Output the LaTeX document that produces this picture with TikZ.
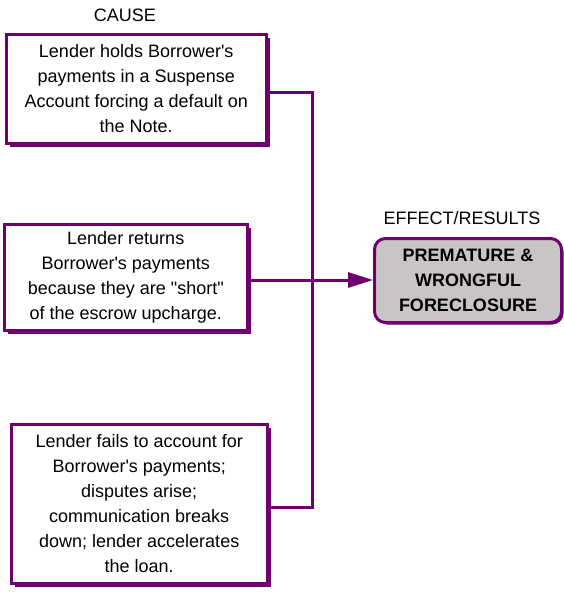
\documentclass[tikz,border=0pt]{standalone}
\usepackage{fontspec}
\setmainfont{Liberation Sans}[Ligatures=TeXOff]
\usetikzlibrary{arrows.meta,shadows}
\definecolor{pur}{RGB}{112,0,112}
\definecolor{effgray}{RGB}{201,197,197}
\begin{document}
\begin{tikzpicture}[x=1pt,y=-1pt,
  txt/.style={font=\fontsize{18}{25}\selectfont, align=center},
  causebox/.style={txt, draw=pur, line width=2.5pt, fill=white, inner sep=0pt, anchor=north west,
    drop shadow={shadow xshift=4pt, shadow yshift=-4pt, fill=pur, opacity=1}},
  effbox/.style={font=\bfseries\fontsize{18}{25}\selectfont, align=center, draw=pur, line width=3pt,
    fill=effgray, rounded corners=11pt, inner sep=0pt, anchor=north west,
    drop shadow={shadow xshift=2pt, shadow yshift=-2pt, fill=pur, opacity=1}},
  conn/.style={draw=pur, line width=3pt},
  lbl/.style={font=\fontsize{18}{22}\selectfont}]
\useasboundingbox (0,0) rectangle (563,592);
\node[lbl] (cause) at (125,15) {CAUSE};
\node[lbl] (effect) at (462,218) {EFFECT/RESULTS};
\node[causebox, minimum width=260pt, minimum height=109pt] (b1) at (5,33)
  {Lender holds Borrower's\\ payments in a Suspense\\ Account forcing a default on\\ the Note.};
\node[causebox, minimum width=243pt, minimum height=106pt] (b2) at (3,223)
  {Lender returns\\ Borrower's payments\\ because they are "short"\\ of the escrow upcharge.};
\node[causebox, minimum width=256pt, minimum height=159pt] (b3) at (10,423)
  {Lender fails to account for\\ Borrower's payments;\\ disputes arise;\\ communication breaks\\ down; lender accelerates\\ the loan.};
\node[effbox, minimum width=187pt, minimum height=84pt] (eff) at (373,237)
  {PREMATURE \&\\ WRONGFUL\\ FORECLOSURE};
\coordinate (j1) at (312,92);
\coordinate (j3) at (312,507);
\draw[conn] (b1.east |- j1) -- (j1) -- (j3) -- (b3.east |- j3);
\draw[conn, -{Triangle[length=25pt,width=15pt]}] (b2.east |- 0,280) -- (eff.west |- 0,280);
\end{tikzpicture}
\end{document}
